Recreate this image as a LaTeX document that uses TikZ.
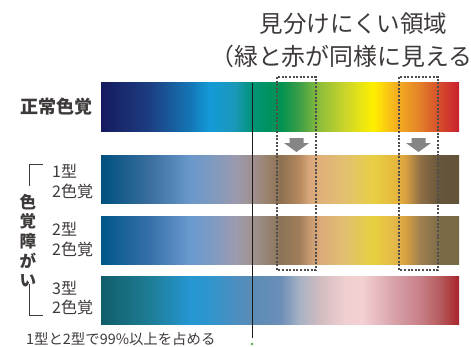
\documentclass[tikz,border=0pt]{standalone}
\usepackage{fontspec}
\setmainfont{Noto Sans CJK JP}
\definecolor{txt}{HTML}{3E3A39}
\definecolor{boxgray}{HTML}{4D4D4D}
\definecolor{arrowgray}{HTML}{858585}
% normal vision
\definecolor{na}{HTML}{161A5E}\definecolor{nb}{HTML}{1C3F82}\definecolor{nc}{HTML}{1476B6}
\definecolor{nd}{HTML}{139BD8}\definecolor{ne}{HTML}{1B98B8}\definecolor{nf}{HTML}{009477}
\definecolor{ng}{HTML}{009150}\definecolor{nh}{HTML}{3FA046}\definecolor{ni}{HTML}{90BE3A}
\definecolor{nj}{HTML}{CBD52A}\definecolor{nk}{HTML}{FFF000}\definecolor{nl}{HTML}{F6B21E}
\definecolor{nm}{HTML}{E3802A}\definecolor{nn}{HTML}{D54A2C}\definecolor{no}{HTML}{C8202E}
% type 1
\definecolor{pa}{HTML}{00507F}\definecolor{pb}{HTML}{3A6F9F}\definecolor{pc}{HTML}{6A98CC}
\definecolor{pd}{HTML}{7C9AC0}\definecolor{pe}{HTML}{9A9AAF}\definecolor{pf}{HTML}{A09090}
\definecolor{pg}{HTML}{998068}\definecolor{ph}{HTML}{8C7050}\definecolor{pi}{HTML}{B88A60}
\definecolor{pj}{HTML}{D7A57A}\definecolor{pk}{HTML}{E0B079}\definecolor{pl}{HTML}{E3C070}
\definecolor{pm}{HTML}{E8CF43}\definecolor{pn}{HTML}{E6B83C}\definecolor{po}{HTML}{D9A040}
\definecolor{pp}{HTML}{8F6F45}\definecolor{pq}{HTML}{65553A}\definecolor{pr}{HTML}{625439}
% type 2
\definecolor{da}{HTML}{00568A}\definecolor{db}{HTML}{3770A8}\definecolor{dc}{HTML}{6A9AD0}
\definecolor{dd}{HTML}{7C9BC5}\definecolor{de}{HTML}{9C9AAF}\definecolor{df}{HTML}{A09390}
\definecolor{dg}{HTML}{8C7458}\definecolor{dh}{HTML}{A17E5A}\definecolor{di}{HTML}{C39870}
\definecolor{dj}{HTML}{DCAA7A}\definecolor{dk}{HTML}{E2C070}\definecolor{dl}{HTML}{E7D03E}
\definecolor{dm}{HTML}{E3B74A}\definecolor{dn}{HTML}{D9A040}\definecolor{do}{HTML}{A08050}
\definecolor{dp}{HTML}{7B6A48}
% type 3
\definecolor{ta}{HTML}{115E6A}\definecolor{tb}{HTML}{1E7D96}\definecolor{tc}{HTML}{2597D3}
\definecolor{td}{HTML}{2F95CC}\definecolor{te}{HTML}{4C8EC0}\definecolor{tf}{HTML}{5A8CB4}
\definecolor{tg}{HTML}{6B8EB7}\definecolor{th}{HTML}{A8B2C4}\definecolor{ti}{HTML}{D2BCC0}
\definecolor{tj}{HTML}{F0CFD0}\definecolor{tk}{HTML}{F3D0D2}\definecolor{tl}{HTML}{D7A0A8}
\definecolor{tm}{HTML}{C88088}\definecolor{tn}{HTML}{B55A5C}\definecolor{to}{HTML}{A8252A}
\pgfdeclarehorizontalshading{normalbar}{100bp}{color(0bp)=(na); color(25bp)=(na);
  color(31.85bp)=(nb); color(37.45bp)=(nc); color(40.2bp)=(nd); color(43.7bp)=(ne);
  color(46.1bp)=(nf); color(50bp)=(ng); color(52.8bp)=(nh); color(55.6bp)=(ni);
  color(59.1bp)=(nj); color(63bp)=(nk); color(66.05bp)=(nl); color(69.55bp)=(nm);
  color(72.35bp)=(nn); color(75bp)=(no); color(100bp)=(no)}
\pgfdeclarehorizontalshading{typeonebar}{100bp}{color(0bp)=(pa); color(25bp)=(pa);
  color(31.85bp)=(pb); color(37.45bp)=(pc); color(40.2bp)=(pd); color(43.7bp)=(pe);
  color(46.1bp)=(pf); color(48.5bp)=(pg); color(50bp)=(ph); color(52.8bp)=(pi);
  color(54bp)=(pj); color(55.6bp)=(pk); color(59.1bp)=(pl); color(63bp)=(pm);
  color(66.05bp)=(pn); color(67.5bp)=(po); color(69.55bp)=(pp); color(72.35bp)=(pq);
  color(75bp)=(pr); color(100bp)=(pr)}
\pgfdeclarehorizontalshading{typetwobar}{100bp}{color(0bp)=(da); color(25bp)=(da);
  color(31.85bp)=(db); color(37.45bp)=(dc); color(40.2bp)=(dd); color(43.7bp)=(de);
  color(46.1bp)=(df); color(50bp)=(dg); color(52.8bp)=(dh); color(54bp)=(di);
  color(55.6bp)=(dj); color(59.1bp)=(dk); color(63bp)=(dl); color(66.05bp)=(dm);
  color(67.5bp)=(dn); color(69.55bp)=(do); color(72.35bp)=(dp); color(75bp)=(dp);
  color(100bp)=(dp)}
\pgfdeclarehorizontalshading{typethreebar}{100bp}{color(0bp)=(ta); color(25bp)=(ta);
  color(31.85bp)=(tb); color(37.45bp)=(tc); color(40.2bp)=(td); color(43.7bp)=(te);
  color(46.1bp)=(tf); color(50bp)=(tg); color(52.8bp)=(th); color(55.6bp)=(ti);
  color(59.1bp)=(tj); color(61.5bp)=(tk); color(66.05bp)=(tl); color(69.55bp)=(tm);
  color(72.35bp)=(tn); color(75bp)=(to); color(100bp)=(to)}
\begin{document}
\begin{tikzpicture}[x=1pt,y=-1pt,
  bar/.style={shade, draw=none, minimum width=358pt, minimum height=48.5pt, inner sep=0pt, outer sep=0pt},
  title/.style={text=txt, inner sep=0pt, font=\fontsize{23.5}{28}\selectfont},
  lbl/.style={text=txt, inner sep=0pt, font=\fontsize{16}{19}\selectfont, anchor=west},
  biglbl/.style={text=txt, inner sep=0pt, font=\bfseries\fontsize{18}{22}\selectfont},
  vlbl/.style={text=txt, inner sep=0pt, font=\bfseries\fontsize{16.5}{20}\selectfont},
  brk/.style={draw=txt, line width=0.9pt},
  zone/.style={draw=boxgray, line width=1.1pt, dash pattern=on 2pt off 1.6pt},
  blockarrow/.style={fill=arrowgray, draw=none}]
\useasboundingbox (0,0) rectangle (471,346);
% bars
\node[bar, shading=normalbar]    (b1) at (280,107)  {};
\node[bar, shading=typeonebar]   (b2) at (280,179.5){};
\node[bar, shading=typetwobar]   (b3) at (280,240.5){};
\node[bar, shading=typethreebar] (b4) at (280,300.5){};
% titles
\node[title] (t1) at (353.5,24) {見分けにくい領域};
\node[title, anchor=west] (t2) at (210,56) {\fontsize{23.9}{28}\selectfont（緑と赤が同様に見える};
% left labels
\node[biglbl] (normal) at (56.5,107) {正常色覚};
\node[lbl] (l1a) at (52,171) {1型};
\node[lbl] (l1b) at (52,191) {2色覚};
\node[lbl] (l2a) at (52,229) {2型};
\node[lbl] (l2b) at (52,249) {2色覚};
\node[lbl] (l3a) at (52,288) {3型};
\node[lbl] (l3b) at (52,307) {2色覚};
\node[vlbl] (v1) at (28,202) {色};
\node[vlbl] (v2) at (28,221) {覚};
\node[vlbl] (v3) at (28,241) {障};
\node[vlbl] (v4) at (28,261) {が};
\node[vlbl] (v5) at (28,281) {い};
\coordinate (bta) at (43,164); \coordinate (btb) at (29,164); \coordinate (btc) at (29,186);
\coordinate (bba) at (29,284); \coordinate (bbb) at (29,315); \coordinate (bbc) at (43,315);
\draw[brk] (bta) -- (btb) -- (btc);
\draw[brk] (bba) -- (bbb) -- (bbc);
\node[text=txt, inner sep=0pt, anchor=west, font=\fontsize{14.4}{17}\selectfont] (note) at (26,339) {1型と2型で99\%以上を占める};
% vertical reference line
\coordinate (vtop) at (252,83); \coordinate (vbot) at (252,338);
\draw[line width=1pt, black!90] (vtop) -- (vbot);
\fill[green!50!black!70] (252,344) circle (1.3pt);
% dashed zones
\draw[zone] (277,77) rectangle (316,270);
\draw[zone] (399,77) rectangle (438,270);
% arrows
\fill[blockarrow] (289.5,138) -- (303.5,138) -- (303.5,143) -- (309,143) -- (296.5,152) -- (284,143) -- (289.5,143) -- cycle;
\fill[blockarrow] (411.5,138) -- (425.5,138) -- (425.5,143) -- (431,143) -- (418.5,152) -- (406,143) -- (411.5,143) -- cycle;
\end{tikzpicture}
\end{document}
